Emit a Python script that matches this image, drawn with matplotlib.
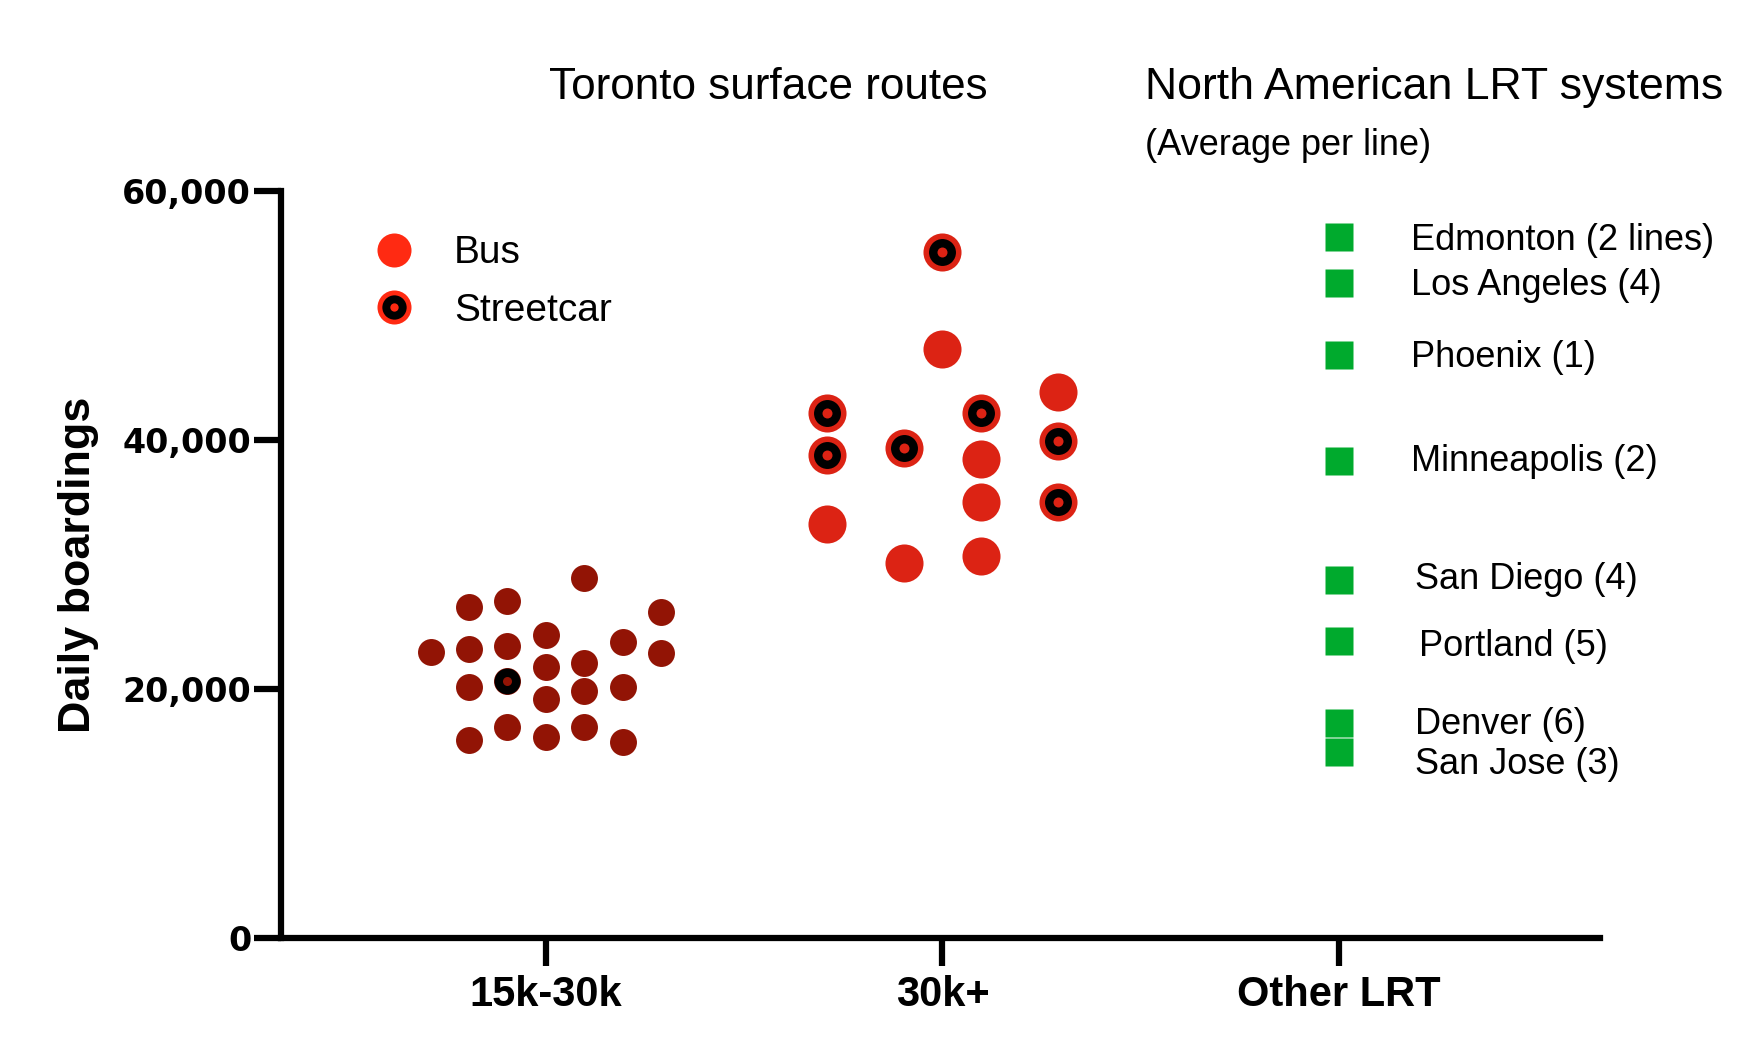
import matplotlib
matplotlib.use('Agg')
import matplotlib.pyplot as plt
from matplotlib.lines import Line2D
import numpy as np

plt.rcParams['font.family'] = ['Liberation Sans', 'DejaVu Sans']

categories = ['15k-30k', '30k+', 'Other LRT']
y_ticks = [0, 20000, 40000, 60000]
y_tick_labels = ['0', '20,000', '40,000', '60,000']

# Toronto routes, 15k-30k daily boardings (S = streetcar, B = bus)
mid_boardings = [22970,
                 26580, 23230, 20160, 15900,
                 27090, 23470, 20610, 16940,
                 24300, 21790, 19220, 16110,
                 28880, 22110, 19860, 16910,
                 23740, 20160, 15740,
                 26150, 22890]
mid_mode = ['B',
            'B', 'B', 'B', 'B',
            'B', 'B', 'S', 'B',
            'B', 'B', 'B', 'B',
            'B', 'B', 'B', 'B',
            'B', 'B', 'B',
            'B', 'B']
mid_column = [-3, -2, -2, -2, -2, -1, -1, -1, -1, 0, 0, 0, 0,
              1, 1, 1, 1, 2, 2, 2, 3, 3]

# Toronto routes, 30k+ daily boardings
high_boardings = [42160, 38810, 33270,
                  39380, 30160,
                  55100, 47300,
                  42130, 38470, 35060, 30650,
                  43870, 39940, 35060]
high_mode = ['S', 'S', 'B',
             'S', 'B',
             'S', 'B',
             'S', 'B', 'B', 'B',
             'B', 'S', 'S']
high_column = [-3, -3, -3, -1, -1, 0, 0, 1, 1, 1, 1, 3, 3, 3]

# North American LRT systems, average per line
lrt_cities = ['Edmonton (2 lines)', 'Los Angeles (4)', 'Phoenix (1)',
              'Minneapolis (2)', 'San Diego (4)', 'Portland (5)',
              'Denver (6)', 'San Jose (3)']
lrt_boardings = [56300, 52630, 46790, 38280, 28770, 23850, 17260, 14930]

COL_STEP = 0.097
label_dx = [51.5, 51.5, 51.5, 51.5, 54.5, 57.5, 54.5, 54.5]
label_dy = [-2.5, -2, -1.7, -0.4, -0.1, -3.9, -0.8, -9]


def draw_routes(ax, xc, values, modes, cols, color, size, ring, dot):
    values = np.array(values)
    modes = np.array(modes)
    x = xc + np.array(cols) * COL_STEP
    ax.plot(x, values, 'o', ms=size, color=color, mec='none', zorder=3)
    sc = modes == 'S'
    ax.plot(x[sc], values[sc], 'o', ms=ring, color='black', mec='none', zorder=4)
    ax.plot(x[sc], values[sc], 'o', ms=dot, color=color, mec='none', zorder=5)


fig = plt.figure(figsize=(17.64, 10.6), dpi=100)
ax = fig.add_axes([0.1593, 0.1151, 0.7477, 0.7047])

draw_routes(ax, 0, mid_boardings, mid_mode, mid_column, '#921405', 19.4, 18.6, 6.5)
draw_routes(ax, 1, high_boardings, high_mode, high_column, '#DC2314', 27.4, 19.4, 7.2)

ax.plot([2] * len(lrt_boardings), lrt_boardings, 's', ms=20,
        color='#00AA2D', mec='none', zorder=3)
for name, v, dx, dy in zip(lrt_cities, lrt_boardings, label_dx, label_dy):
    ax.annotate(name, (2, v), xytext=(dx, dy), textcoords='offset points',
                ha='left', va='center', fontsize=26, annotation_clip=False)

ax.set_xlim(-0.668, 2.658)
ax.set_ylim(0, 60000)
ax.set_xticks(range(len(categories)), labels=categories,
              fontsize=30, fontweight='bold')
ax.set_yticks(y_ticks, labels=y_tick_labels, fontsize=24,
              fontweight='bold', fontfamily='DejaVu Sans')
ax.tick_params(axis='y', length=19.5, width=4.5, pad=2)
ax.tick_params(axis='x', length=20, width=4.5, pad=7)
for side in ['top', 'right']:
    ax.spines[side].set_visible(False)
for side in ['left', 'bottom']:
    ax.spines[side].set_linewidth(4.5)

ax.set_ylabel('Daily boardings', fontsize=32.3, fontweight='bold')
ax.yaxis.set_label_coords(-0.138, 0.5)

bus_h = Line2D([], [], ls='none', marker='o', ms=24.5, color='#FF2A12', mec='none')
sc_h = (Line2D([], [], ls='none', marker='o', ms=24.5, color='#FF2A12', mec='none'),
        Line2D([], [], ls='none', marker='o', ms=17.5, color='black', mec='none'),
        Line2D([], [], ls='none', marker='o', ms=6, color='#FF2A12', mec='none'))
ax.legend([bus_h, sc_h], ['Bus', 'Streetcar'], loc='upper left',
          bbox_to_anchor=(374.5 / 1764, 0.778), bbox_transform=fig.transFigure,
          frameon=False, fontsize=28, borderpad=0, borderaxespad=0,
          handlelength=1.0, handletextpad=1.05, labelspacing=0.55)

fig.text(0.4354, 0.9176, 'Toronto surface routes', ha='center', va='center', fontsize=31.8)
fig.text(0.6491, 0.9176, 'North American LRT systems', ha='left', va='center', fontsize=32.1)
fig.text(0.6491, 0.8631, '(Average per line)', ha='left', va='center', fontsize=26)

fig.savefig('out.png', dpi=100)
